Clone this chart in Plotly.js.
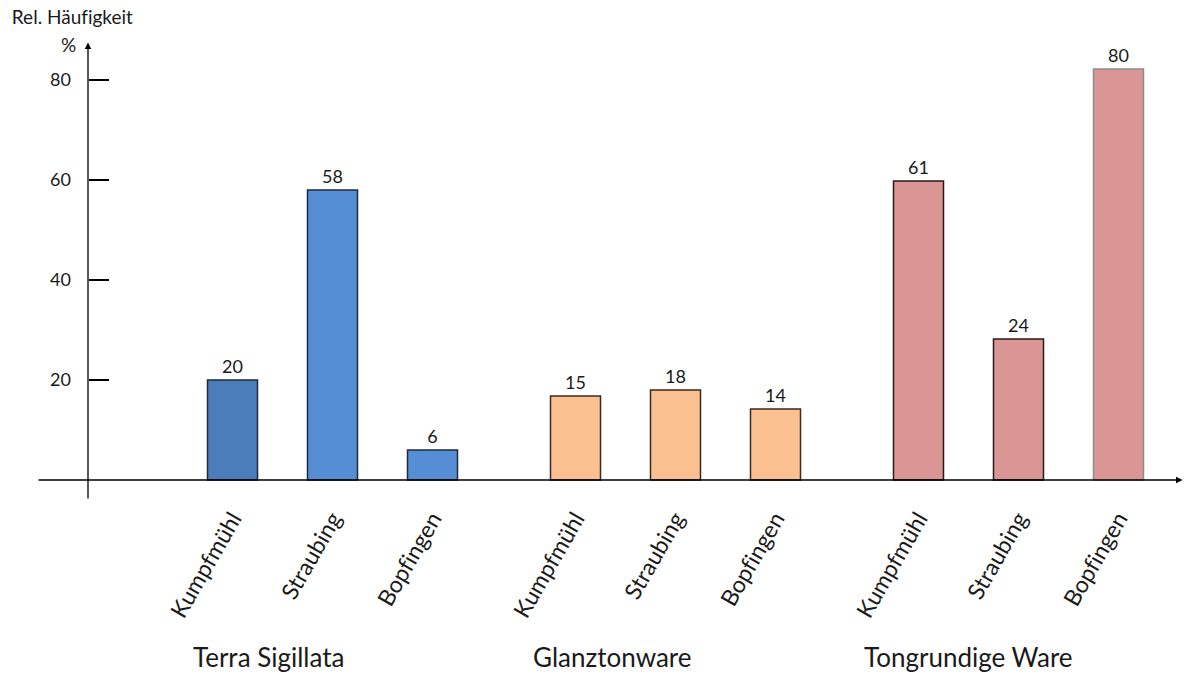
<!DOCTYPE html>
<html>
<head>
<meta charset="utf-8">
<script src="https://cdn.plot.ly/plotly-3.0.1.min.js"></script>
<style>html,body{margin:0;padding:0;background:#fff;}#chart{width:1190px;height:673px;}
#chart text{font-variant-ligatures:none;font-feature-settings:"liga" 0, "clig" 0;}</style>
</head>
<body>
<div id="chart"></div>
<script>
// Data
const groups = ["Terra Sigillata", "Glanztonware", "Tongrundige Ware"];
const sites = ["Kumpfmühl", "Straubing", "Bopfingen"];
// bar heights as drawn in the picture
const terraSigillata = [20, 58, 6];
const glanztonware = [16.8, 18, 14.2];
const tongrundigeWare = [59.8, 28.2, 82.2];
// value labels printed above bars
const terraSigillataLabels = ["20", "58", "6"];
const glanztonwareLabels = ["15", "18", "14"];
const tongrundigeWareLabels = ["61", "24", "80"];
const yTicks = [20, 40, 60, 80];

const groupValues = [terraSigillata, glanztonware, tongrundigeWare];
const groupLabels = [terraSigillataLabels, glanztonwareLabels, tongrundigeWareLabels];
const groupColors = [
  ["#4a7dba", "#558ed5", "#558ed5"],
  ["#fac090", "#fac090", "#fac090"],
  ["#d99694", "#d99694", "#d99694"]
];
const groupLineColors = [
  ["#1f2a3a", "#1f2a3a", "#1f2a3a"],
  ["#3a2a20", "#3a2a20", "#3a2a20"],
  ["#2a1a1a", "#2a1a1a", "#8c8c8c"]
];

const groupGap = 3.43;
const FONT = "Lato, 'Open Sans', sans-serif";

const traces = groups.map((g, gi) => ({
  type: "bar",
  x: sites.map((s, i) => gi * groupGap + i),
  y: groupValues[gi],
  text: groupLabels[gi],
  textposition: "outside",
  cliponaxis: false,
  constraintext: "none",
  textfont: {family: FONT, size: 18, color: "#1a1a1a"},
  width: 0.5,
  marker: {color: groupColors[gi], line: {color: groupLineColors[gi], width: 1.5}},
  hoverinfo: "skip",
  showlegend: false
}));

const tickvals = [];
const ticktext = [];
groups.forEach((g, gi) => sites.forEach((s, i) => { tickvals.push(gi * groupGap + i); ticktext.push(s); }));

const xMin = -2.225, xMax = 9.525;
const yAxisX = -1.445;

const annotations = [];
// axis arrows
annotations.push({x: yAxisX, y: 87.5, ax: yAxisX, ay: -4, xref: "x", yref: "y", axref: "x", ayref: "y",
  showarrow: true, text: "", arrowhead: 2, arrowsize: 1, arrowwidth: 1.3, arrowcolor: "#000", standoff: 0, startstandoff: 0});
annotations.push({x: 9.5, y: 0, ax: -1.955, ay: 0, xref: "x", yref: "y", axref: "x", ayref: "y",
  showarrow: true, text: "", arrowhead: 2, arrowsize: 1, arrowwidth: 1.3, arrowcolor: "#000", standoff: 0, startstandoff: 0});
// group labels
groups.forEach((g, gi) => annotations.push({
  x: gi * groupGap + 1 + (gi === 0 ? -0.64 : (gi === 1 ? -0.64 : -0.5)), y: -0.3413, xref: "x", yref: "paper",
  text: g, showarrow: false, xanchor: "center", yanchor: "middle",
  font: {family: FONT, size: 26, color: "#1a1a1a"}
}));
annotations.push({x: 0, y: 1.05, xref: "paper", yref: "paper", text: "Rel. Häufigkeit", showarrow: false,
  xanchor: "left", yanchor: "middle", font: {family: FONT, size: 19, color: "#1a1a1a"}});
annotations.push({x: 0.0579, y: 0.991, xref: "paper", yref: "paper", text: "%", showarrow: false,
  xanchor: "right", yanchor: "middle", font: {family: FONT, size: 19, color: "#1a1a1a"}});

const layout = {
  width: 1190, height: 673,
  margin: {l: 10, r: 5, t: 40, b: 173},
  paper_bgcolor: "#fff", plot_bgcolor: "#fff",
  xaxis: {range: [xMin, xMax], showgrid: false, zeroline: false, showline: false,
    tickmode: "array", tickvals: tickvals, ticktext: ticktext, tickangle: -60, ticks: "",
    tickfont: {family: FONT, size: 23, color: "#1a1a1a"}, fixedrange: true},
  yaxis: {range: [-4, 88], showgrid: false, zeroline: false, showline: false,
    anchor: "free", position: (88 - 10) / 1175,
    tickmode: "array", tickvals: yTicks, ticks: "inside", ticklen: 20, tickwidth: 1.3, tickcolor: "#000",
    ticklabelstandoff: 17,
    tickfont: {family: FONT, size: 18, color: "#1a1a1a"}, fixedrange: true},
  annotations: annotations,
  bargap: 0
};

Plotly.newPlot("chart", traces, layout, {displayModeBar: false, staticPlot: true});
</script>
</body>
</html>
